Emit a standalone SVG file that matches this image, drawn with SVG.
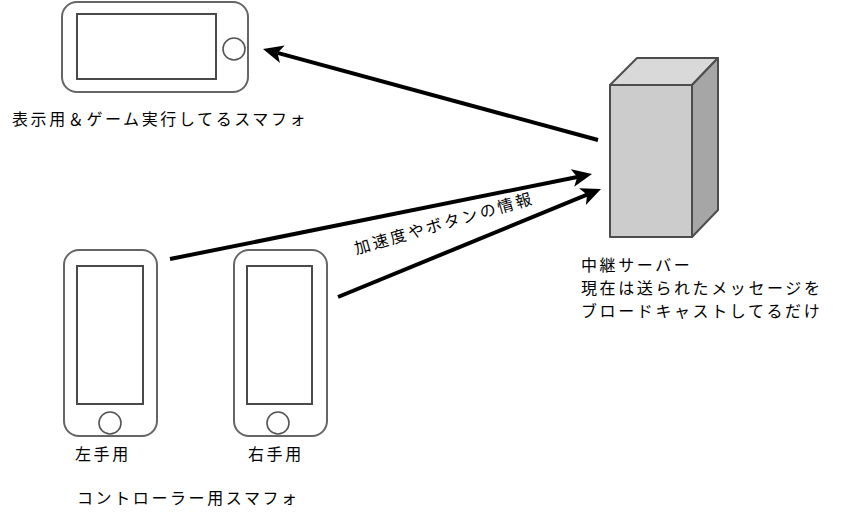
<svg xmlns="http://www.w3.org/2000/svg" width="848" height="520" viewBox="0 0 848 520">
<style>
  text { font-family: "Noto Sans CJK JP", "Noto Sans", sans-serif; font-size: 16px; fill: #000; letter-spacing: 2.6px; }
  .body { fill: #fff; stroke: #666; stroke-width: 2; }
  .screen { fill: #fff; stroke: #4a4a4a; stroke-width: 2; }
  .btn { fill: #fff; stroke: #555; stroke-width: 1.6; }
  .edge { fill: none; stroke: #000; stroke-width: 4; }
  .srv { stroke: #4d4d4d; stroke-width: 2; stroke-linejoin: round; }
</style>
<defs>
  <marker id="arr" viewBox="0 0 20 18" refX="5" refY="9" markerWidth="20" markerHeight="18" markerUnits="userSpaceOnUse" orient="auto">
    <path d="M0,0 L20,9 L0,18 L5,9 Z" fill="#000"/>
  </marker>
</defs>
<rect width="848" height="520" fill="#fff"/>

<g id="display-phone">
  <rect class="body" x="62" y="2" width="186" height="90" rx="15"/>
  <rect class="screen" x="77" y="14" width="139" height="65"/>
  <circle class="btn" cx="234" cy="49" r="11"/>
  <text x="12" y="125">表示用＆ゲーム実行してるスマフォ</text>
</g>

<g id="server">
  <path class="srv" d="M610,85 L637,58 L718,58 L692,85 Z" fill="#d9d9d9"/>
  <path class="srv" d="M692,85 L718,58 L718,210 L692,237 Z" fill="#a6a6a6"/>
  <rect class="srv" x="610" y="85" width="82" height="152" fill="#cccccc"/>
  <text x="581" y="271">中継サーバー</text>
  <text x="581" y="294">現在は送られたメッセージを</text>
  <text x="581" y="317">ブロードキャストしてるだけ</text>
</g>

<g id="left-phone">
  <rect class="body" x="64" y="250" width="93" height="186" rx="15"/>
  <rect class="screen" x="77" y="266" width="66" height="138"/>
  <circle class="btn" cx="110" cy="423" r="11"/>
  <text x="75" y="460">左手用</text>
</g>

<g id="right-phone">
  <rect class="body" x="234" y="250" width="93" height="186" rx="15"/>
  <rect class="screen" x="247" y="266" width="65" height="138"/>
  <circle class="btn" cx="278" cy="423" r="11"/>
  <text x="248" y="460">右手用</text>
</g>

<g id="controller-label">
  <text x="77" y="504">コントローラー用スマフォ</text>
</g>

<g id="connectors">
  <line class="edge" x1="598" y1="140" x2="277.5" y2="52.9" marker-end="url(#arr)"/>
  <line class="edge" x1="170" y1="259" x2="577.3" y2="177" marker-end="url(#arr)"/>
  <line class="edge" x1="338" y1="297" x2="587.1" y2="194.7" marker-end="url(#arr)"/>
  <text transform="translate(444,223) rotate(-16)" x="0" y="6" text-anchor="middle">加速度やボタンの情報</text>
</g>
</svg>
